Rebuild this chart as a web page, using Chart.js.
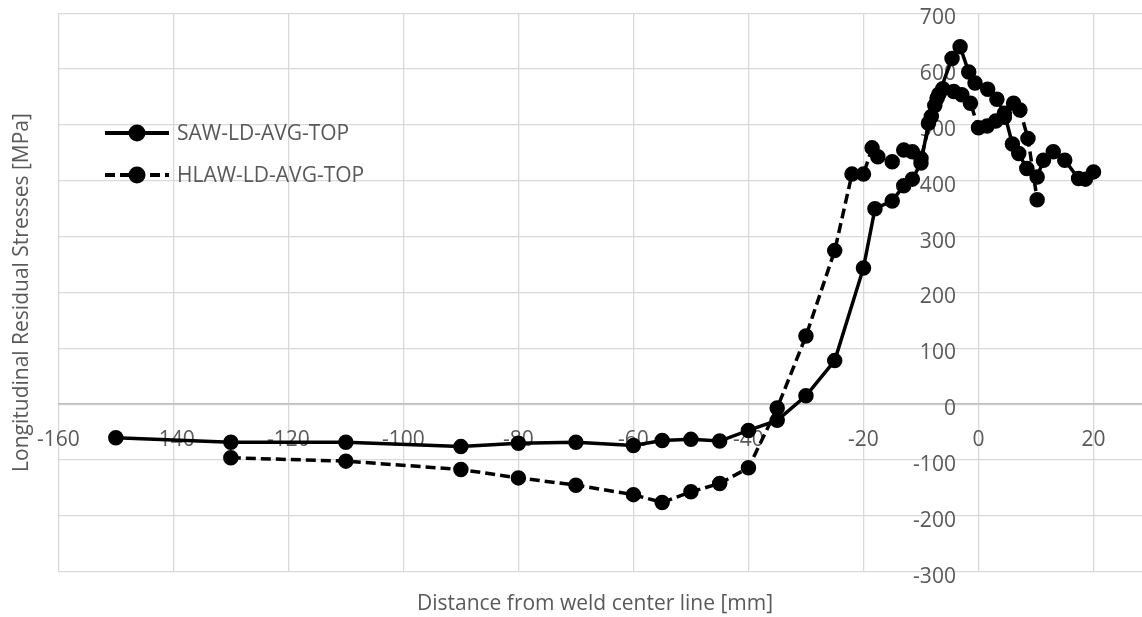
<!DOCTYPE html>
<html>
<head>
<meta charset="utf-8">
<script src="https://cdn.jsdelivr.net/npm/chart.js@4.4.1/dist/chart.umd.min.js"></script>
<style>
  html, body { margin: 0; padding: 0; background: #fff; overflow: hidden; }
  #wrap { width: 1142px; height: 617px; }
</style>
</head>
<body>
<div id="wrap"><canvas id="chart" width="1142" height="617"></canvas></div>
<script>
// SAW-LD-AVG-TOP (solid)
const sawX = [-150, -130, -110, -90, -80, -70, -60, -55, -50, -45, -40, -35, -30, -25, -20, -18, -15, -13, -11.5, -10,
  -8.7, -7.6, -6.9, -4.6, -3.2, -1.7, -0.6, 1.6, 3.2, 4.5, 5.9, 7, 8.4, 10.2, 11.3, 13, 15, 17.4, 18.6, 20];
const sawY = [-60, -68, -68, -76, -70, -68, -74, -65, -63, -66, -47, -29, 15, 78, 244, 350, 364, 391, 403, 432,
  503, 535, 555, 619, 640, 595, 575, 564, 546, 521, 466, 449, 422, 407, 437, 452, 437, 404, 403, 416];

// HLAW-LD-AVG-TOP (dashed)
const hlawX = [-130, -110, -90, -80, -70, -60, -55, -50, -45, -40, -35, -30, -25, -22, -20, -18.5, -17.5, -15, -13, -11.5, -10,
  -8.2, -7.2, -6.2, -4.3, -2.9, -1.4, 0, 1.5, 3, 4.5, 6.1, 7.2, 8.6, 10.2];
const hlawY = [-96, -102, -117, -132, -145, -162, -176, -157, -142, -114, -7, 122, 275, 412, 412, 459, 443, 434, 455, 452, 440,
  515, 548, 565, 560, 554, 539, 495, 498, 507, 514, 539, 527, 476, 366];

const xTicks = [-160, -140, -120, -100, -80, -60, -40, -20, 0, 20];
const yTicks = [-300, -200, -100, 0, 100, 200, 300, 400, 500, 600, 700];

const seriesNames = ['SAW-LD-AVG-TOP', 'HLAW-LD-AVG-TOP'];
const xTitle = 'Distance from weld center line [mm]';
const yTitle = 'Longitudinal Residual Stresses [MPa]';

const FONT = '"Open Sans", "Segoe UI", sans-serif';
const GREY = '#595959';

function pts(xs, ys) {
  return xs.map((x, i) => ({ x: x, y: ys[i] }));
}

// axes sit inside the plot, so their label padding must not shrink it
function noPadding(scale) {
  scale.paddingTop = 0;
  scale.paddingBottom = 0;
  scale.paddingLeft = 0;
  scale.paddingRight = 0;
}

// axis titles and legend, drawn Excel style
const decorations = {
  id: 'decorations',
  afterDraw(chart) {
    const { ctx, chartArea: { top, bottom } } = chart;
    ctx.save();
    ctx.fillStyle = GREY;
    ctx.font = '21px ' + FONT;
    ctx.textAlign = 'center';
    ctx.textBaseline = 'middle';
    ctx.fillText(xTitle, 595, 604);
    ctx.translate(22, (top + bottom) / 2);
    ctx.rotate(-Math.PI / 2);
    ctx.fillText(yTitle, 0, 0);
    ctx.restore();

    // legend
    ctx.save();
    const rows = [133, 175];
    chart.data.datasets.forEach((ds, i) => {
      const y = rows[i];
      ctx.strokeStyle = '#000';
      ctx.lineWidth = 4;
      ctx.setLineDash(ds.borderDash || []);
      ctx.beginPath();
      ctx.moveTo(105, y);
      ctx.lineTo(169, y);
      ctx.stroke();
      ctx.setLineDash([]);
      ctx.fillStyle = '#000';
      ctx.beginPath();
      ctx.arc(137, y, 8.5, 0, Math.PI * 2);
      ctx.fill();
      ctx.fillStyle = GREY;
      ctx.font = '21px ' + FONT;
      ctx.textAlign = 'left';
      ctx.textBaseline = 'middle';
      ctx.fillText(ds.label, 177, y + 1);
    });
    ctx.restore();
  }
};

new Chart(document.getElementById('chart'), {
  type: 'scatter',
  data: {
    datasets: [{
      label: seriesNames[0],
      data: pts(sawX, sawY),
      showLine: true,
      borderColor: '#000',
      backgroundColor: '#000',
      borderWidth: 3.5,
      pointRadius: 6,
      pointHoverRadius: 6
    }, {
      label: seriesNames[1],
      data: pts(hlawX, hlawY),
      showLine: true,
      borderColor: '#000',
      backgroundColor: '#000',
      borderWidth: 3.5,
      borderDash: [10, 5],
      pointRadius: 6,
      pointHoverRadius: 6
    }]
  },
  options: {
    responsive: false,
    animation: false,
    events: [],
    layout: { autoPadding: false, padding: { left: 58.3, top: 13.3, right: 0, bottom: 45.3 } },
    plugins: {
      legend: { display: false },
      tooltip: { enabled: false }
    },
    scales: {
      x: {
        type: 'linear',
        position: { y: 0 },
        min: -160,
        max: 28.43,
        afterBuildTicks: (axis) => { axis.ticks = xTicks.map(v => ({ value: v })); },
        afterFit: noPadding,
        ticks: {
          color: GREY,
          font: { family: FONT, size: 21 },
          padding: 23,
          maxRotation: 0
        },
        grid: { color: '#d9d9d9', lineWidth: 1.3, drawTicks: false },
        border: { display: true, color: '#bfbfbf', width: 1.5 }
      },
      y: {
        type: 'linear',
        // labels stand a little left of the x = 0 line (the line itself is an x grid line)
        position: { x: -3.93 },
        min: -300,
        max: 700,
        afterBuildTicks: (axis) => { axis.ticks = yTicks.map(v => ({ value: v })); },
        afterFit: noPadding,
        ticks: {
          color: GREY,
          font: { family: FONT, size: 21 },
          labelOffset: 5
        },
        grid: { color: '#d9d9d9', lineWidth: 1.3, drawTicks: false },
        border: { display: false }
      }
    }
  },
  plugins: [decorations]
});
</script>
</body>
</html>
